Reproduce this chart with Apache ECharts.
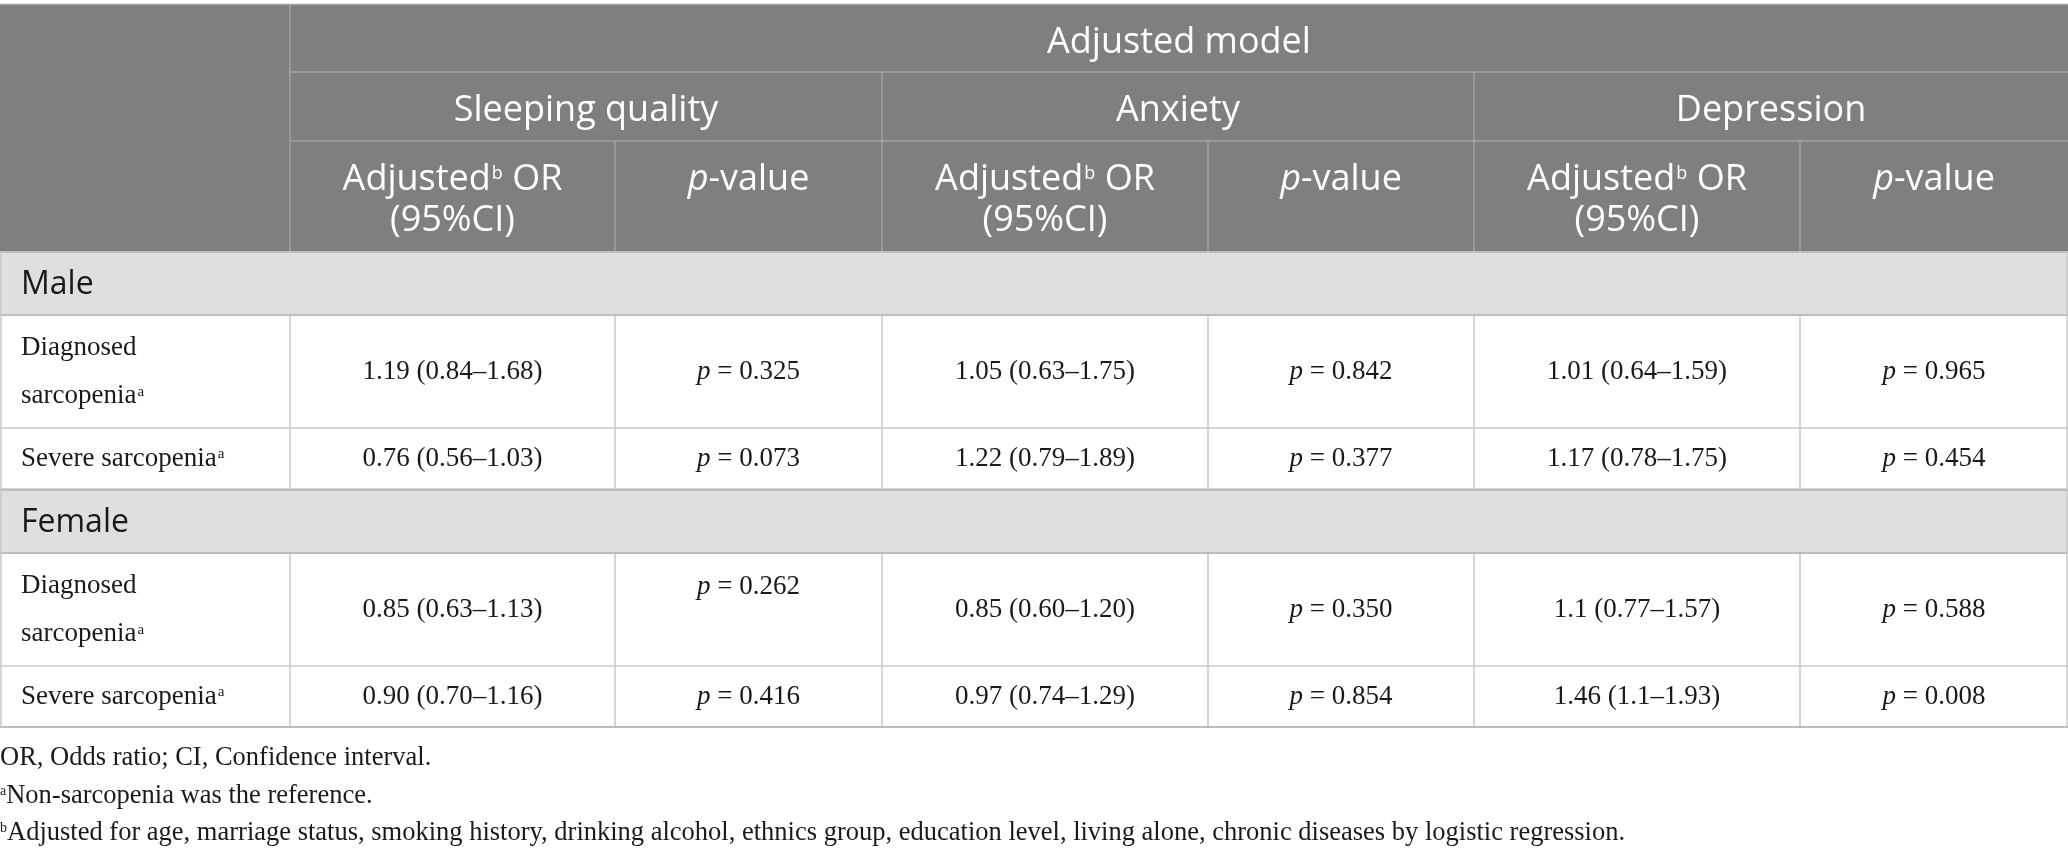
<!DOCTYPE html>
<html>
<head>
<meta charset="utf-8">
<script src="https://cdn.jsdelivr.net/npm/echarts@6/dist/echarts.min.js"></script>
<style>
html, body { margin: 0; padding: 0; background: #fff; }
#main { width: 2068px; height: 854px; }
</style>
</head>
<body>
<div id="main"></div>
<script>
// table content
var title = 'Adjusted model';
var groups = ['Sleeping quality', 'Anxiety', 'Depression'];
var sections = ['Male', 'Female'];
var rowLabels = [['Diagnosed', 'sarcopenia'], ['Severe sarcopenia']];
var maleOR = [
  ['1.19 (0.84–1.68)', '1.05 (0.63–1.75)', '1.01 (0.64–1.59)'],
  ['0.76 (0.56–1.03)', '1.22 (0.79–1.89)', '1.17 (0.78–1.75)']
];
var maleP = [
  ['0.325', '0.842', '0.965'],
  ['0.073', '0.377', '0.454']
];
var femaleOR = [
  ['0.85 (0.63–1.13)', '0.85 (0.60–1.20)', '1.1 (0.77–1.57)'],
  ['0.90 (0.70–1.16)', '0.97 (0.74–1.29)', '1.46 (1.1–1.93)']
];
var femaleP = [
  ['0.262', '0.350', '0.588'],
  ['0.416', '0.854', '0.008']
];
var footnotes = [
  ['', 'OR, Odds ratio; CI, Confidence interval.'],
  ['a', 'Non-sarcopenia was the reference.'],
  ['b', 'Adjusted for age, marriage status, smoking history, drinking alcohol, ethnics group, education level, living alone, chronic diseases by logistic regression.']
];

// layout
var colX = [0, 290, 615, 882, 1208, 1474, 1800, 2068];
var headY = [4, 72, 141, 251];
var bodyRows = [[251, 316], [316, 428], [428, 489], [489, 554], [554, 666], [666, 727]];
var noteY = [758, 796, 833];

var SANS = '"Open Sans", "Noto Sans", sans-serif';
var SERIF = '"Liberation Serif", "DejaVu Serif", serif';
var HS = 36; // header font size
var headFill = '#7f807e';
var headLine = '#a2a3a1';
var bodyLine = '#c9c9c9';
var sectFill = '#e0dedf';
var sectLine = '#bdbdbd';

var els = [];

function rect(x1, y1, x2, y2, fill) {
  els.push({ type: 'rect', shape: { x: x1, y: y1, width: x2 - x1, height: y2 - y1 }, style: { fill: fill }, silent: true });
}
function line(x1, y1, x2, y2, color, w) {
  els.push({ type: 'line', shape: { x1: x1, y1: y1, x2: x2, y2: y2 }, style: { stroke: color, lineWidth: w || 1.5 }, silent: true, z: 5 });
}
function text(x, y, str, opt) {
  els.push({
    type: 'text', z: 10, silent: true,
    style: {
      x: x, y: y, text: str,
      fontFamily: opt.family, fontSize: opt.size,
      fill: opt.color || '#1a1a1a',
      align: opt.align || 'center', verticalAlign: 'middle',
      rich: opt.rich
    }
  });
}
function mid(a, b) { return (a + b) / 2; }

// header background + grid
rect(0, headY[0], 2068, headY[3], headFill);
line(0, headY[0] + 0.5, 2068, headY[0] + 0.5, headLine);
line(colX[1], headY[0], colX[1], headY[3], headLine);
line(colX[1], headY[1], 2068, headY[1], headLine);
line(colX[1], headY[2], 2068, headY[2], headLine);
[3, 5].forEach(function (c) { line(colX[c], headY[1], colX[c], headY[3], headLine); });
[2, 4, 6].forEach(function (c) { line(colX[c], headY[2], colX[c], headY[3], headLine); });

var headRich = {
  sup: { fontSize: 18, verticalAlign: 'top', fill: '#fff', fontFamily: SANS, padding: [3, 0, 0, 1] },
  i: { fontStyle: 'italic', fill: '#fff', fontFamily: SANS, fontSize: HS },
  n: { fill: '#fff', fontFamily: SANS, fontSize: HS }
};

text(mid(colX[1], colX[7]), 43, title, { family: SANS, size: HS, color: '#fff' });
groups.forEach(function (g, k) {
  var c = 1 + k * 2;
  text(mid(colX[c], colX[c + 2]), 111, g, { family: SANS, size: HS, color: '#fff' });
  text(mid(colX[c], colX[c + 1]), 180, '{n|Adjusted}{sup|b}{n| OR}', { family: SANS, size: HS, color: '#fff', rich: headRich });
  text(mid(colX[c], colX[c + 1]), 221, '(95%CI)', { family: SANS, size: HS, color: '#fff' });
  text(mid(colX[c + 1], colX[c + 2]), 180, '{i|p}{n|-value}', { family: SANS, size: HS, color: '#fff', rich: headRich });
});

// body
var bodyRich = {
  i: { fontStyle: 'italic', fontFamily: SERIF, fontSize: 27, fill: '#1a1a1a' },
  n: { fontFamily: SERIF, fontSize: 27, fill: '#1a1a1a' },
  sup: { fontFamily: SERIF, fontSize: 15, fill: '#1a1a1a', verticalAlign: 'top', padding: [2, 0, 0, 1] }
};

var data = [[maleOR, maleP], [femaleOR, femaleP]];
sections.forEach(function (s, si) {
  var sr = bodyRows[si * 3];
  rect(0, sr[0], 2068, sr[1], sectFill);
  text(21, mid(sr[0], sr[1]) + 1, s, { family: SANS, size: 32, color: '#1a1a1a', align: 'left' });

  rowLabels.forEach(function (lab, ri) {
    var r = bodyRows[si * 3 + 1 + ri];
    var cy = mid(r[0], r[1]);
    if (lab.length === 2) {
      text(21, cy - 24, lab[0], { family: SERIF, size: 27, align: 'left' });
      text(21, cy + 24, '{n|' + lab[1] + '}{sup|a}', { family: SERIF, size: 27, align: 'left', rich: bodyRich });
    } else {
      text(21, cy, '{n|' + lab[0] + '}{sup|a}', { family: SERIF, size: 27, align: 'left', rich: bodyRich });
    }
    var ors = data[si][0][ri], ps = data[si][1][ri];
    ors.forEach(function (v, k) {
      var c = 1 + k * 2;
      text(mid(colX[c], colX[c + 1]), cy, v, { family: SERIF, size: 27 });
      // the female/diagnosed/sleeping p-value sits on the first text line in the source
      var py = (si === 1 && ri === 0 && k === 0) ? cy - 23 : cy;
      text(mid(colX[c + 1], colX[c + 2]), py, '{i|p}{n| = ' + ps[k] + '}', { family: SERIF, size: 27, rich: bodyRich });
    });
    // row grid
    colX.slice(1, 7).forEach(function (x) { line(x, r[0], x, r[1], bodyLine); });
    line(0, r[1], 2068, r[1], bodyLine);
  });

  line(0, sr[0] + 1, 2068, sr[0] + 1, sectLine, 2);
  line(0, sr[1] - 1, 2068, sr[1] - 1, sectLine, 2);
});
line(0, 727, 2068, 727, sectLine, 2);
line(1, 251, 1, 727, bodyLine);
line(2067, 251, 2067, 727, bodyLine);

// footnotes
footnotes.forEach(function (f, i) {
  var s = f[0] ? '{sup|' + f[0] + '}{n|' + f[1] + '}' : '{n|' + f[1] + '}';
  text(0, noteY[i], s, {
    family: SERIF, size: 26.5, align: 'left',
    rich: {
      n: { fontFamily: SERIF, fontSize: 26.5, fill: '#1a1a1a' },
      sup: { fontFamily: SERIF, fontSize: 14, fill: '#1a1a1a', verticalAlign: 'top', padding: [2, 0, 0, 0] }
    }
  });
});

var chart = echarts.init(document.getElementById('main'), null, { renderer: 'canvas' });
chart.setOption({
  backgroundColor: '#fff',
  animation: false,
  graphic: { elements: els }
});
</script>
</body>
</html>
